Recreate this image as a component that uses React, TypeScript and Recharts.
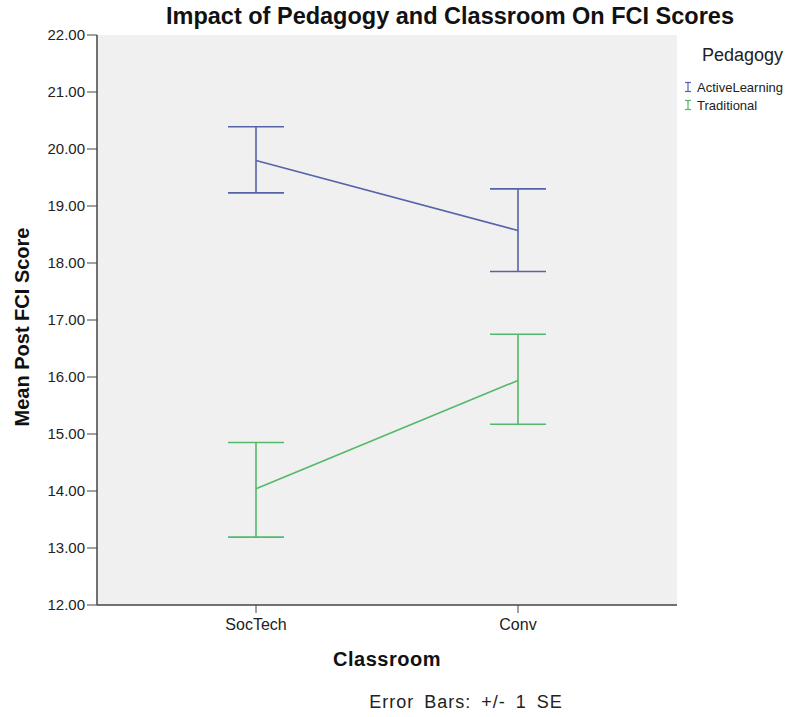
import React from 'react';
import { LineChart, Line, XAxis, YAxis, CartesianGrid, ErrorBar } from 'recharts';

const classrooms = ['SocTech', 'Conv'];
const activeMean = [19.8, 18.57];
const activeLow = [19.23, 17.85];
const activeHigh = [20.39, 19.3];
const tradMean = [14.04, 15.94];
const tradLow = [13.19, 15.17];
const tradHigh = [14.85, 16.75];
const yTicks = [12, 13, 14, 15, 16, 17, 18, 19, 20, 21, 22];

const BLUE = '#5563a9';
const GREEN = '#55b86a';
const FONT = '"Liberation Sans", Arial, sans-serif';

const data = classrooms.map((c, i) => ({
  classroom: c,
  active: activeMean[i],
  activeErr: [activeMean[i] - activeLow[i], activeHigh[i] - activeMean[i]],
  trad: tradMean[i],
  tradErr: [tradMean[i] - tradLow[i], tradHigh[i] - tradMean[i]],
}));

function LegendIcon({ color }: { color: string }) {
  return (
    <svg width={8} height={12} style={{ marginRight: 5 }}>
      <line x1={1} y1={1.5} x2={7} y2={1.5} stroke={color} strokeWidth={1.2} />
      <line x1={4} y1={1.5} x2={4} y2={10.5} stroke={color} strokeWidth={1.2} />
      <line x1={1} y1={10.5} x2={7} y2={10.5} stroke={color} strokeWidth={1.2} />
    </svg>
  );
}

export default function App() {
  const yTick = { fontSize: 15, fill: '#222', fontFamily: FONT };
  const xTick = { fontSize: 16, fill: '#222', fontFamily: FONT };
  return (
    <div style={{ position: 'absolute', left: 0, top: 0, width: 810, height: 717, background: '#fff', fontFamily: FONT }}>
      <div style={{ position: 'absolute', left: 0, width: 900, top: 3, textAlign: 'center', fontSize: 23.5, fontWeight: 'bold', color: '#111' }}>
        Impact of Pedagogy and Classroom On FCI Scores
      </div>
      <LineChart width={810} height={717} data={data} margin={{ top: 35, right: 133, bottom: 82, left: 37 }}>
        <CartesianGrid horizontal={false} vertical={false} fill="#f0f0f0" />
        <XAxis
          dataKey="classroom"
          padding={{ left: 159, right: 159 }}
          height={30}
          tick={xTick}
          tickSize={8}
          tickMargin={6}
          axisLine={{ stroke: '#444', strokeWidth: 1.5 }}
          tickLine={{ stroke: '#444' }}
        />
        <XAxis xAxisId="top" orientation="top" dataKey="classroom" height={0} tick={false} tickLine={false} axisLine={{ stroke: '#444', strokeWidth: 1.5 }} />
        <YAxis
          domain={[12, 22]}
          ticks={yTicks}
          width={60}
          tick={yTick}
          tickSize={10}
          tickMargin={2}
          tickFormatter={(v: number) => v.toFixed(2)}
          axisLine={{ stroke: '#444', strokeWidth: 1.5 }}
          tickLine={{ stroke: '#444' }}
        />
        <YAxis yAxisId="right" orientation="right" domain={[12, 22]} width={0} tick={false} tickLine={false} axisLine={{ stroke: '#444', strokeWidth: 1.5 }} />
        <Line type="linear" dataKey="active" stroke={BLUE} strokeWidth={1.6} dot={false} isAnimationActive={false}>
          <ErrorBar dataKey="activeErr" width={28} stroke={BLUE} strokeWidth={1.6} direction="y" />
        </Line>
        <Line type="linear" dataKey="trad" stroke={GREEN} strokeWidth={1.6} dot={false} isAnimationActive={false}>
          <ErrorBar dataKey="tradErr" width={28} stroke={GREEN} strokeWidth={1.6} direction="y" />
        </Line>
      </LineChart>
      <div
        style={{
          position: 'absolute', left: 22, top: 327, transform: 'translate(-50%, -50%) rotate(-90deg)',
          fontSize: 20, fontWeight: 'bold', color: '#111', whiteSpace: 'nowrap',
        }}
      >
        Mean Post FCI Score
      </div>
      <div style={{ position: 'absolute', left: 287, width: 200, top: 648, textAlign: 'center', fontSize: 20, letterSpacing: 0.5, fontWeight: 'bold', color: '#111' }}>
        Classroom
      </div>
      <div style={{ position: 'absolute', left: 316, width: 300, top: 692, textAlign: 'center', fontSize: 18, letterSpacing: 1, wordSpacing: 4, color: '#222' }}>
        Error Bars: +/- 1 SE
      </div>
      <div style={{ position: 'absolute', left: 684, top: 45, color: '#222' }}>
        <div style={{ fontSize: 18, marginLeft: 18, marginBottom: 12 }}>Pedagogy</div>
        <div style={{ display: 'flex', alignItems: 'center', fontSize: 13, height: 18 }}>
          <LegendIcon color={BLUE} />ActiveLearning
        </div>
        <div style={{ display: 'flex', alignItems: 'center', fontSize: 13, height: 18 }}>
          <LegendIcon color={GREEN} />Traditional
        </div>
      </div>
    </div>
  );
}
